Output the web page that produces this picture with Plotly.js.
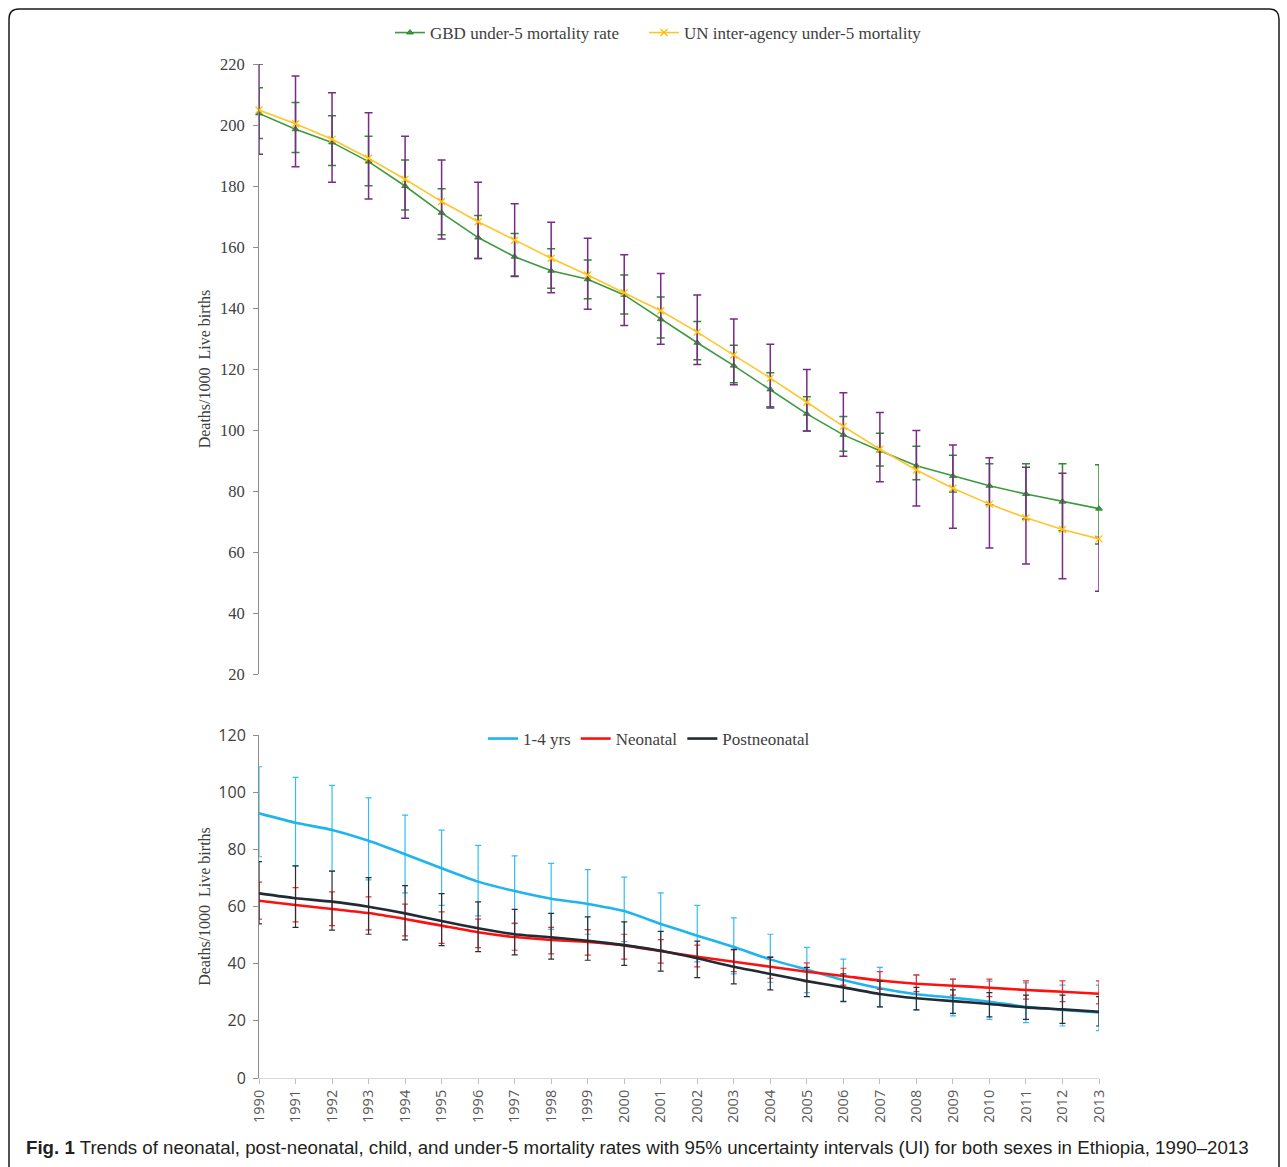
<!DOCTYPE html>
<html>
<head>
<meta charset="utf-8">
<script src="https://cdn.plot.ly/plotly-3.0.1.min.js"></script>
<style>
  html, body { margin: 0; padding: 0; background: #ffffff; }
  #chart { width: 1287px; height: 1167px; }
</style>
</head>
<body>
<div id="chart"></div>
<script>
// ---------- DATA ----------
const years = [1990,1991,1992,1993,1994,1995,1996,1997,1998,1999,2000,2001,2002,2003,2004,2005,2006,2007,2008,2009,2010,2011,2012,2013];
const yearLabels = years.map(String);

// Top panel: under-5 mortality (deaths / 1000 live births)
const gbdU5      = [203.8,198.6,194.3,188.0,180.0,171.2,163.1,156.8,152.2,149.4,144.3,136.3,128.6,121.1,113.3,105.3,98.4,93.2,88.3,84.9,81.7,79.0,76.5,74.2];
const gbdU5Upper = [212.2,207.4,203.0,196.3,188.5,179.1,170.3,164.4,159.4,155.7,150.8,143.6,135.6,127.8,118.8,110.9,104.4,98.9,94.7,91.7,88.9,88.9,88.9,88.6];
const gbdU5Lower = [195.6,191.0,186.7,180.1,172.1,164.0,156.2,150.5,146.5,143.0,138.0,130.2,123.0,115.5,107.6,99.7,93.0,88.2,83.7,79.7,75.5,70.8,67.0,62.6];

const unU5       = [204.9,200.4,195.3,189.1,182.2,174.9,168.3,162.2,156.3,150.8,145.0,139.1,132.1,124.6,117.0,109.1,101.2,93.7,86.9,80.9,75.7,71.2,67.4,64.3];
const unU5Upper  = [220.0,216.1,210.6,204.0,196.3,188.5,181.2,174.2,168.1,162.9,157.5,151.3,144.3,136.4,128.1,119.8,112.2,105.7,99.8,95.1,90.9,87.8,85.8,64.8];
const unU5Lower  = [190.4,186.3,181.2,175.7,169.4,162.6,156.2,150.3,145.0,139.6,134.3,128.1,121.5,114.8,107.2,99.7,91.4,83.0,75.1,67.8,61.3,56.1,51.2,47.1];

// Bottom panel
const child      = [92.6,89.3,86.8,83.0,78.3,73.4,68.7,65.4,62.7,60.9,58.4,53.9,49.8,45.8,41.5,37.9,34.3,31.4,29.3,28.1,26.7,24.9,23.8,22.9];
const childUpper = [108.9,105.2,102.4,98.0,92.0,86.7,81.4,77.7,75.1,72.9,70.3,64.8,60.4,56.0,50.3,45.7,41.6,38.7,36.0,34.6,33.9,33.3,32.5,32.5];
const childLower = [77.4,74.2,72.4,69.3,64.8,60.4,56.7,54.0,52.0,50.3,47.7,44.8,40.6,36.4,33.5,29.9,26.9,24.9,23.8,21.7,20.5,19.4,18.2,16.6];

const neonatal      = [62.0,60.5,59.1,57.7,55.6,53.3,51.0,49.3,48.3,47.6,46.4,44.4,42.4,40.7,38.9,37.2,35.7,34.1,33.0,32.3,31.6,30.8,30.2,29.5];
const neonatalUpper = [68.5,66.6,65.1,63.4,60.8,58.1,55.6,54.2,52.7,51.9,50.3,48.4,46.5,44.8,42.4,40.3,38.4,37.2,36.1,34.6,34.6,34.0,34.0,34.0];
const neonatalLower = [55.6,54.6,53.3,51.8,49.7,47.1,45.6,44.7,43.4,43.0,41.6,40.2,38.9,37.2,34.9,33.7,32.5,31.0,30.2,29.0,28.5,27.6,26.7,25.9];

const postneo      = [64.6,62.9,61.7,59.9,57.6,54.9,52.4,50.3,49.2,48.0,46.5,44.5,41.9,38.9,36.4,33.9,31.7,29.4,27.9,26.9,25.9,24.7,24.0,23.2];
const postneoUpper = [75.7,74.2,72.4,70.1,67.3,64.5,61.6,59.0,57.6,56.4,54.6,51.3,47.9,45.0,42.2,38.7,36.4,33.9,31.7,30.8,29.9,29.0,29.0,28.5];
const postneoLower = [53.9,52.7,51.7,50.3,48.3,46.3,44.2,43.1,41.6,41.2,39.4,37.4,35.1,32.9,30.8,28.5,26.7,24.9,23.8,22.6,21.4,20.5,19.1,18.2];

const seriesNames = ['GBD under-5 mortality rate', 'UN inter-agency under-5 mortality', '1-4 yrs', 'Neonatal', 'Postneonatal'];
const yTitle = 'Deaths/1000  Live births';
const caption = '<b>Fig. 1</b> Trends of neonatal, post-neonatal, child, and under-5 mortality rates with 95% uncertainty intervals (UI) for both sexes in Ethiopia, 1990\u20132013';

// ---------- HELPERS ----------
const up = (hi, v) => hi.map((h, i) => Math.max(0, +(h - v[i]).toFixed(2)));
const dn = (lo, v) => lo.map((l, i) => Math.max(0, +(v[i] - l).toFixed(2)));

const W = 1287, H = 1167;
const M = {l: 259, r: 188, t: 64, b: 89};
const PW = W - M.l - M.r, PH = H - M.t - M.b;
const px = x => (x - M.l) / PW;
const py = y => (H - M.b - y) / PH;

const SERIF = 'Liberation Serif, Times New Roman, serif';
const SANS = 'Open Sans, Noto Sans, sans-serif';

// ---------- TRACES ----------
const traces = [
  {
    x: years, y: gbdU5, name: seriesNames[0], xaxis: 'x2', yaxis: 'y2',
    type: 'scatter', mode: 'lines+markers', cliponaxis: false,
    line: {color: '#3C9A3C', width: 1.6},
    marker: {symbol: 'triangle-up', size: 6, color: '#3C9A3C', line: {color: '#2A7A2A', width: 0.8}},
    error_y: {type: 'data', symmetric: false, array: up(gbdU5Upper, gbdU5), arrayminus: dn(gbdU5Lower, gbdU5),
              color: '#2E8B2E', thickness: 1.5, width: 4},
    legend: 'legend'
  },
  {
    x: years, y: unU5, name: seriesNames[1], xaxis: 'x2', yaxis: 'y2',
    type: 'scatter', mode: 'lines+markers', cliponaxis: false,
    line: {color: '#FFC52A', width: 1.6},
    marker: {symbol: 'x-thin-open', size: 7, color: '#FFC000', line: {color: '#FFC000', width: 1.3}},
    error_y: {type: 'data', symmetric: false, array: up(unU5Upper, unU5), arrayminus: dn(unU5Lower, unU5),
              color: '#7A2A88', thickness: 1.5, width: 4},
    legend: 'legend3'
  },
  {
    x: years, y: child, name: seriesNames[2], xaxis: 'x', yaxis: 'y',
    type: 'scatter', mode: 'lines', cliponaxis: false,
    line: {color: '#1FB4EE', width: 2.6, shape: 'spline', smoothing: 0.5},
    error_y: {type: 'data', symmetric: false, array: up(childUpper, child), arrayminus: dn(childLower, child),
              color: '#33BDF2', thickness: 1.2, width: 3},
    legend: 'legend2'
  },
  {
    x: years, y: neonatal, name: seriesNames[3], xaxis: 'x', yaxis: 'y',
    type: 'scatter', mode: 'lines', cliponaxis: false,
    line: {color: '#FF1010', width: 2.6, shape: 'spline', smoothing: 0.5},
    error_y: {type: 'data', symmetric: false, array: up(neonatalUpper, neonatal), arrayminus: dn(neonatalLower, neonatal),
              color: '#F03030', thickness: 1.2, width: 3},
    legend: 'legend2'
  },
  {
    x: years, y: postneo, name: seriesNames[4], xaxis: 'x', yaxis: 'y',
    type: 'scatter', mode: 'lines', cliponaxis: false,
    line: {color: '#222A33', width: 2.6, shape: 'spline', smoothing: 0.5},
    error_y: {type: 'data', symmetric: false, array: up(postneoUpper, postneo), arrayminus: dn(postneoLower, postneo),
              color: '#2A2F36', thickness: 1.2, width: 3},
    legend: 'legend2'
  }
];

// ---------- LAYOUT ----------
const r = 10; // border corner radius (px)
const bx0 = 9, by0 = 9, bx1 = 1279, by1 = 1178;
const borderPath = [
  `M ${px(bx0)} ${py(by1)}`,
  `L ${px(bx0)} ${py(by0 + r)}`,
  `Q ${px(bx0)} ${py(by0)} ${px(bx0 + r)} ${py(by0)}`,
  `L ${px(bx1 - r)} ${py(by0)}`,
  `Q ${px(bx1)} ${py(by0)} ${px(bx1)} ${py(by0 + r)}`,
  `L ${px(bx1)} ${py(by1)}`
].join(' ');

const legendBase = {
  orientation: 'h', xanchor: 'left', yanchor: 'middle',
  font: {family: SERIF, size: 17, color: '#404040'}, bgcolor: 'rgba(0,0,0,0)',
  itemwidth: 30
};

const layout = {
  width: W, height: H,
  margin: M,
  paper_bgcolor: '#ffffff', plot_bgcolor: '#ffffff',
  showlegend: true,
  font: {family: SERIF, size: 15, color: '#404040'},
  xaxis: {
    domain: [0, 1], anchor: 'y', range: [1990, 2013],
    tickmode: 'array', tickvals: years, ticktext: yearLabels, tickangle: -90,
    ticks: 'outside', ticklen: 5, tickcolor: '#bfbfbf', tickwidth: 1,
    showline: true, linecolor: '#d9d9d9', linewidth: 1,
    showgrid: false, zeroline: false,
    tickfont: {family: SANS, size: 14.5, color: '#595959'}
  },
  yaxis: {
    domain: [0, py(735)], anchor: 'x', range: [0, 120], dtick: 20, tickmode: 'linear', tick0: 0,
    ticks: 'outside', ticklen: 5, tickcolor: '#8c8c8c', ticklabelstandoff: 4,
    showline: true, linecolor: '#8c8c8c', linewidth: 1,
    showgrid: false, zeroline: false,
    tickfont: {family: SANS, size: 16, color: '#404040'},
    title: {text: yTitle, font: {family: SERIF, size: 16, color: '#404040'}, standoff: 3}
  },
  xaxis2: {
    domain: [0, 1], anchor: 'y2', range: [1990, 2013], visible: false
  },
  yaxis2: {
    domain: [py(674), 1], anchor: 'x2', range: [20, 220], dtick: 20, tickmode: 'linear', tick0: 20,
    ticks: 'outside', ticklen: 5, tickcolor: '#8c8c8c', ticklabelstandoff: 5,
    showline: true, linecolor: '#8c8c8c', linewidth: 1,
    showgrid: false, zeroline: false,
    tickfont: {family: SERIF, size: 16.5, color: '#404040'},
    title: {text: yTitle, font: {family: SERIF, size: 16, color: '#404040'}, standoff: 5}
  },
  legend:  Object.assign({}, legendBase, {x: px(390), y: py(33)}),
  legend3: Object.assign({}, legendBase, {x: px(644), y: py(33)}),
  legend2: Object.assign({}, legendBase, {x: px(483), y: py(739)}),
  annotations: [
    {
      xref: 'paper', yref: 'paper', x: px(24), y: py(1147), xanchor: 'left', yanchor: 'middle',
      text: caption, showarrow: false, align: 'left',
      font: {family: 'Liberation Sans, Arial, sans-serif', size: 18.7, color: '#231f20'}
    }
  ],
  shapes: [
    {type: 'path', xref: 'paper', yref: 'paper', path: borderPath, line: {color: '#1a1a1a', width: 1.5}, layer: 'above'}
  ]
};

Plotly.newPlot('chart', traces, layout, {staticPlot: true, displayModeBar: false});
</script>
</body>
</html>
